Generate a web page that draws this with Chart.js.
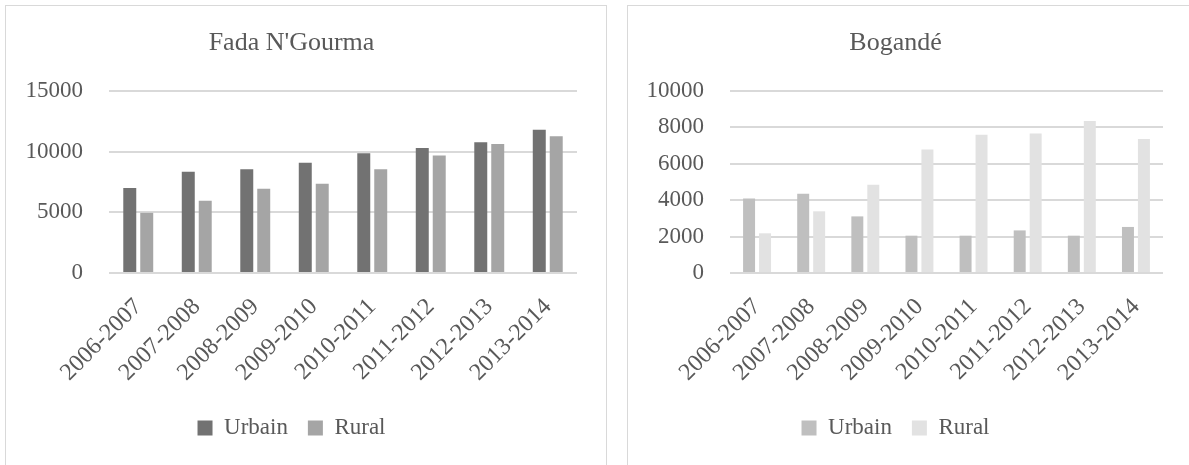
<!DOCTYPE html>
<html>
<head>
<meta charset="utf-8">
<script src="https://cdn.jsdelivr.net/npm/chart.js@4"></script>
<style>
  html, body { margin: 0; padding: 0; background: #fff; overflow: hidden; }
  body { width: 1189px; height: 465px; position: relative; }
  .panel { position: absolute; top: 5px; border: 1px solid #d9d9d9; background: #fff; }
  #p1 { left: 5px; width: 600px; height: 470px; }
  #p2 { left: 627px; width: 562px; height: 470px; }
  canvas { display: block; }
</style>
</head>
<body>
<div class="panel" id="p1"><canvas id="c1" width="600" height="459"></canvas></div>
<div class="panel" id="p2"><canvas id="c2" width="560" height="459"></canvas></div>
<script>
// années scolaires
const categories = ['2006-2007', '2007-2008', '2008-2009', '2009-2010', '2010-2011', '2011-2012', '2012-2013', '2013-2014'];

// Fada N'Gourma
const fadaUrbain = [7000, 8350, 8550, 9080, 9870, 10300, 10780, 11800];
const fadaRural = [4960, 5950, 6940, 7350, 8560, 9680, 10640, 11270];

// Bogandé
const bogandeUrbain = [4100, 4360, 3110, 2050, 2050, 2340, 2050, 2530];
const bogandeRural = [2180, 3390, 4850, 6780, 7600, 7660, 8350, 7360];

const FONT = "'Liberation Serif', 'Times New Roman', serif";
const TEXT = '#595959';

function makeChart(id, title, urbain, rural, colors, yMax, yStep, yWidth, rightPad, catPct, barPct) {
  const ctx = document.getElementById(id).getContext('2d');
  return new Chart(ctx, {
    type: 'bar',
    data: {
      labels: categories,
      datasets: [
        { label: 'Urbain', data: urbain, backgroundColor: colors[0], borderWidth: 0,
          categoryPercentage: catPct, barPercentage: barPct },
        { label: 'Rural', data: rural, backgroundColor: colors[1], borderWidth: 0,
          categoryPercentage: catPct, barPercentage: barPct }
      ]
    },
    options: {
      responsive: false,
      animation: false,
      layout: { padding: { left: 0, right: rightPad, top: 0, bottom: 15.5 } },
      plugins: {
        title: {
          display: true,
          text: title,
          color: TEXT,
          font: { family: FONT, size: 26, weight: 'normal' },
          padding: { top: 21.4, bottom: 32.4 }
        },
        legend: {
          position: 'bottom',
          labels: {
            color: TEXT,
            font: { family: FONT, size: 23 },
            boxWidth: 15,
            boxHeight: 15,
            padding: 20
          }
        },
        tooltip: { enabled: false }
      },
      scales: {
        x: {
          grid: { display: false },
          border: { display: false },
          ticks: {
            color: TEXT,
            font: { family: FONT, size: 24 },
            maxRotation: 45,
            minRotation: 45,
            padding: 12
          },
          afterFit: function(scale) { scale.height = 123.5; }
        },
        y: {
          min: 0,
          max: yMax,
          grid: { color: '#d9d9d9', lineWidth: 2, drawTicks: false },
          border: { display: false },
          ticks: {
            stepSize: yStep,
            color: TEXT,
            font: { family: FONT, size: 23 },
            padding: 26,
            callback: function(value) { return String(value); }
          },
          afterFit: function(scale) { scale.width = yWidth; }
        }
      }
    }
  });
}

makeChart('c1', "Fada N'Gourma", fadaUrbain, fadaRural, ['#727272', '#a5a5a5'],
  15000, 5000, 103, 29, 0.58, 0.765);
makeChart('c2', 'Bogandé', bogandeUrbain, bogandeRural, ['#bfbfbf', '#e2e2e2'],
  10000, 2000, 102, 25, 0.59, 0.75);
</script>
</body>
</html>
